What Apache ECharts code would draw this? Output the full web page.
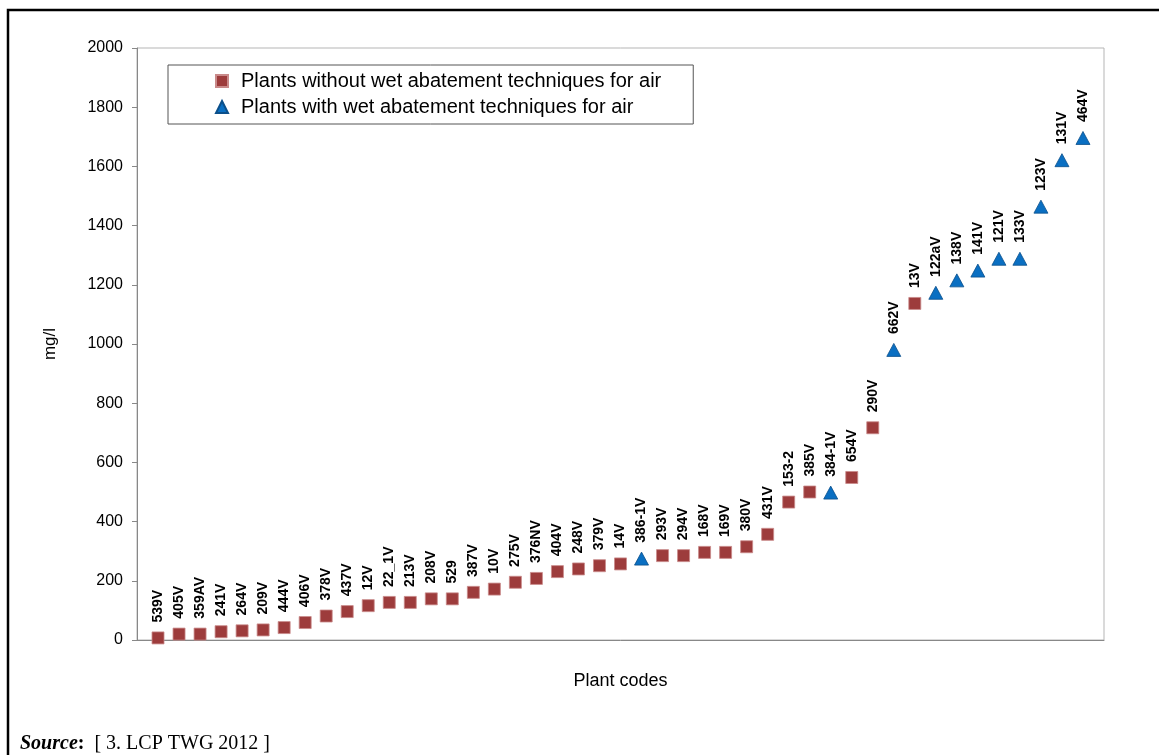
<!DOCTYPE html>
<html>
<head>
<meta charset="utf-8">
<title>Plant codes - mg/l</title>
<script src="https://cdn.jsdelivr.net/npm/echarts@6/dist/echarts.min.js"></script>
<style>
  html, body { margin: 0; padding: 0; background: #fff; }
  #chart { width: 1159px; height: 755px; }
</style>
</head>
<body>
<div id="chart"></div>
<script>
'use strict';

// plant codes, in plotting order (left to right)
var codes = ['539V', '405V', '359AV', '241V', '264V', '209V', '444V', '406V', '378V', '437V',
    '12V', '22_1V', '213V', '208V', '529', '387V', '10V', '275V', '376NV', '404V',
    '248V', '379V', '14V', '386-1V', '293V', '294V', '168V', '169V', '380V', '431V',
    '153-2', '385V', '384-1V', '654V', '290V', '662V', '13V', '122aV', '138V', '141V',
    '121V', '133V', '123V', '131V', '464V'];

// mg/l
var values = [7, 20, 20, 28, 31, 34, 42, 59, 81, 96,
    116, 127, 127, 139, 139, 161, 172, 195, 208, 231,
    240, 251, 257, 275, 285, 285, 296, 296, 315, 357,
    466, 500, 498, 549, 717, 980, 1137, 1173, 1215, 1248,
    1288, 1288, 1464, 1621, 1696];

// true = plant with wet abatement techniques for air
var wet = [false, false, false, false, false, false, false, false, false, false,
    false, false, false, false, false, false, false, false, false, false,
    false, false, false, true, false, false, false, false, false, false,
    false, false, true, false, false, true, false, true, true, true,
    true, true, true, true, true];

var yTicks = [0, 200, 400, 600, 800, 1000, 1200, 1400, 1600, 1800, 2000];

var nameDry = 'Plants without wet abatement techniques for air';
var nameWet = 'Plants with wet abatement techniques for air';

var dryData = [];
var wetData = [];
codes.forEach(function (code, i) {
    var pt = [i + 1, values[i], code];
    if (wet[i]) wetData.push(pt); else dryData.push(pt);
});

var pointLabel = {
    show: true,
    position: 'top',
    rotate: 90,
    align: 'left',
    verticalAlign: 'middle',
    distance: 9,
    color: '#000',
    fontFamily: 'Liberation Sans',
    fontWeight: 'bold',
    fontSize: 14,
    formatter: function (p) {
        return p.data[2];
    }
};

var myChart = echarts.init(document.getElementById('chart'));

var option = {
    animation: false,
    backgroundColor: '#fff',
    textStyle: { fontFamily: 'Liberation Sans' },
    grid: {
        left: 137,
        right: 55,
        top: 48,
        bottom: 115,
        show: true,
        borderColor: '#b5b5b5',
        borderWidth: 1
    },
    legend: {
        orient: 'vertical',
        left: 168,
        top: 65,
        borderColor: '#555',
        borderWidth: 1,
        padding: [6, 32, 7, 47],
        itemGap: 6,
        itemWidth: 12,
        itemHeight: 12,
        textStyle: {
            fontSize: 20,
            color: '#000',
            padding: [0, 0, 0, 8]
        },
        data: [
            { name: nameDry, icon: 'rect' },
            { name: nameWet, icon: 'triangle' }
        ]
    },
    xAxis: {
        type: 'value',
        min: 0,
        max: codes.length + 1,
        name: 'Plant codes',
        nameLocation: 'middle',
        nameGap: 32,
        nameTextStyle: { fontSize: 18, color: '#000' },
        axisLine: { show: true, onZero: false, lineStyle: { color: '#888', width: 1 } },
        axisTick: { show: false },
        axisLabel: { show: false },
        splitLine: { show: false }
    },
    yAxis: {
        type: 'value',
        min: yTicks[0],
        max: yTicks[yTicks.length - 1],
        interval: 200,
        name: 'mg/l',
        nameLocation: 'middle',
        nameRotate: 90,
        nameGap: 78,
        nameTextStyle: { fontSize: 17, color: '#000' },
        axisLine: { show: true, lineStyle: { color: '#888', width: 1 } },
        axisTick: { show: true, inside: false, length: 5, lineStyle: { color: '#888' } },
        axisLabel: {
            fontSize: 16,
            color: '#000',
            margin: 14,
            formatter: function (v) {
                return String(v);
            }
        },
        splitLine: { show: false }
    },
    series: [{
        name: nameDry,
        type: 'scatter',
        symbol: 'rect',
        symbolSize: 12,
        itemStyle: { color: '#9d3c3c', borderColor: '#c98a8a', borderWidth: 0.8, opacity: 1 },
        label: pointLabel,
        data: dryData
    }, {
        name: nameWet,
        type: 'scatter',
        symbol: 'triangle',
        symbolSize: [14, 13],
        itemStyle: { color: '#0a6fc2', borderColor: '#0b4f8a', borderWidth: 0.8, opacity: 1 },
        label: pointLabel,
        data: wetData
    }],
    graphic: [{
        type: 'rect',
        silent: true,
        shape: { x: 8, y: 10, width: 1200, height: 800 },
        style: { fill: null, stroke: '#000', lineWidth: 2.5 }
    }, {
        type: 'text',
        left: 20,
        top: 734,
        silent: true,
        style: {
            text: '{s|Source}{c|:}  [ 3. LCP TWG 2012 ]',
            fill: '#000',
            font: '20px "Liberation Serif"',
            rich: {
                s: { fontFamily: 'Liberation Serif', fontSize: 20, fontWeight: 'bold', fontStyle: 'italic' },
                c: { fontFamily: 'Liberation Serif', fontSize: 20, fontWeight: 'bold' }
            }
        }
    }]
};

myChart.setOption(option);
</script>
</body>
</html>
